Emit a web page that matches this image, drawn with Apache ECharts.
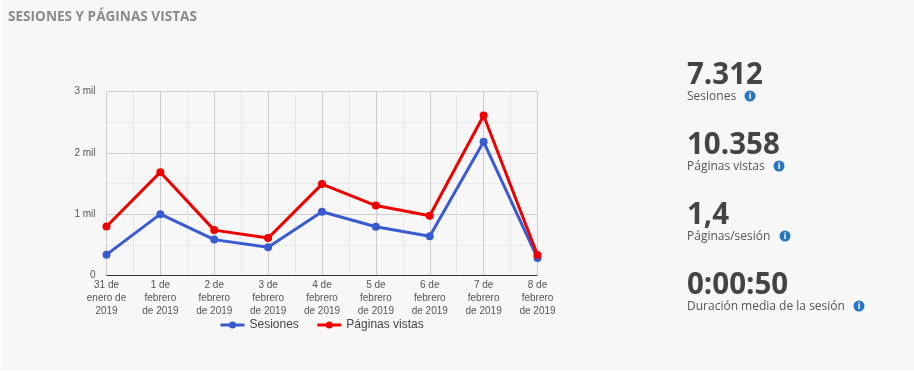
<!DOCTYPE html>
<html><head><meta charset="utf-8">
<style>html,body{margin:0;padding:0;background:#fff}#c{width:914px;height:371px}</style>
<script src="https://cdn.jsdelivr.net/npm/echarts@6/dist/echarts.min.js"></script>
</head><body><div id="c"></div>
<script>
const categories = ['31 de\nenero de\n2019','1 de\nfebrero\nde 2019','2 de\nfebrero\nde 2019','3 de\nfebrero\nde 2019','4 de\nfebrero\nde 2019','5 de\nfebrero\nde 2019','6 de\nfebrero\nde 2019','7 de\nfebrero\nde 2019','8 de\nfebrero\nde 2019'];
const sesiones = [340,1000,585,460,1040,795,640,2180,285];
const paginas = [800,1685,740,610,1490,1140,975,2610,335];
const yLabels = {0:'0',1000:'1 mil',2000:'2 mil',3000:'3 mil'};
const stats = [['7.312','Sesiones',62,750],['10.358','Páginas vistas',132,779],['1,4','Páginas/sesión',202,785],['0:00:50','Duración media de la sesión',272,859]];

const graphic = [
  {type:'rect',z:-1,shape:{x:1,y:0,width:913,height:370},style:{fill:'#f7f7f7'}},
  {type:'text',x:8,y:10,style:{text:'SESIONES Y PÁGINAS VISTAS',font:'bold 13.6px "Open Sans"',fill:'#8a8a8a'}}
];
stats.forEach(s=>{
  graphic.push({type:'text',x:687,y:s[2]-1,style:{text:s[0],font:'bold 29.5px "Open Sans"',fill:'#444444',textVerticalAlign:'top'}});
  graphic.push({type:'text',x:687,y:s[2]+29,style:{text:s[1],font:'12px "Open Sans"',fill:'#555555',textVerticalAlign:'top'}});
  graphic.push({type:'circle',shape:{cx:s[3],cy:s[2]+34,r:5.5},style:{fill:'#2a76bd'}});
  graphic.push({type:'text',x:s[3],y:s[2]+34,style:{text:'i',font:'bold 9px "Open Sans"',fill:'#ffffff',align:'center',verticalAlign:'middle'}});
});
const pairs = a => a.map((v,i)=>[i,v]);
const mk = (name,color,data,z) => ({name,type:'line',data:pairs(data),z,color,symbol:'circle',symbolSize:8,showSymbol:true,
  lineStyle:{color,width:3},itemStyle:{color}});
const chart = echarts.init(document.getElementById('c'),null,{renderer:'canvas'});
chart.setOption({
  animation:false,
  backgroundColor:'#ffffff',
  textStyle:{fontFamily:'"Liberation Sans"'},
  graphic,
  grid:{left:106.5,top:91.5,width:431,height:184,containLabel:false},
  legend:{left:214,top:314,itemWidth:24,itemHeight:9,itemGap:17,
    lineStyle:{width:3},
    textStyle:{fontFamily:'"Liberation Sans"',fontSize:12,color:'#444444'},
    data:['Sesiones','Páginas vistas']},
  xAxis:{type:'value',min:0,max:8,interval:1,
    axisLine:{show:false},axisTick:{show:false},
    axisLabel:{formatter:v=>categories[v],color:'#555555',fontSize:10,lineHeight:13,margin:3,hideOverlap:false,showMinLabel:true,showMaxLabel:true},
    splitLine:{show:true,lineStyle:{color:'#cccccc',width:1}},
    minorTick:{show:false,splitNumber:2},
    minorSplitLine:{show:true,lineStyle:{color:'#e8e8e8',width:1}}},
  yAxis:{type:'value',min:0,max:3000,interval:1000,
    axisLine:{show:false},axisTick:{show:false},
    axisLabel:{formatter:v=>yLabels[v],color:'#555555',fontSize:10,margin:11,padding:[3,0,0,0]},
    splitLine:{show:true,lineStyle:{color:'#cccccc',width:1}},
    minorTick:{show:false,splitNumber:2},
    minorSplitLine:{show:true,lineStyle:{color:'#e8e8e8',width:1}}},
  series:[mk('Sesiones','#3a5bd0',sesiones,3),mk('Páginas vistas','#ee0000',paginas,4),
    {type:'line',silent:true,data:[],markLine:{silent:true,symbol:'none',label:{show:false},lineStyle:{color:'#333333',width:1,type:'solid'},data:[{yAxis:0}]}}]
});
</script></body></html>
